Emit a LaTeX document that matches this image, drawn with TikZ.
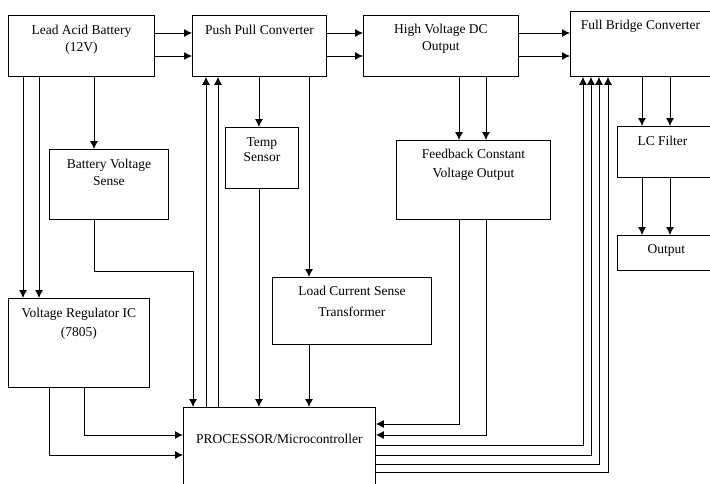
\documentclass[tikz,border=0pt]{standalone}
\usepackage{fontspec}
\setmainfont{Liberation Serif}
\usetikzlibrary{arrows.meta}

\tikzset{
  blk/.style={draw, line width=0.9pt, anchor=north west, inner sep=0pt},
  ttl/.style={anchor=north, align=center, inner sep=0pt, yshift=-10pt,
    font=\fontsize{13.5}{17}\selectfont},
  wire/.style={line width=0.9pt, ->, >={Latex[length=8pt,width=8pt]}}
}

\begin{document}
\begin{tikzpicture}[x=1pt,y=-1pt]
  \useasboundingbox (0,0) rectangle (710,483);
  \clip (0,0) rectangle (710,483);

  % blocks
  \node[blk, minimum width=146pt, minimum height=61pt,
    label={[ttl]north:{Lead Acid Battery\\(12V)}}] (bat) at (8,15) {};
  \node[blk, minimum width=134pt, minimum height=61pt,
    label={[ttl]north:{Push Pull Converter}}] (pp) at (192,15) {};
  \node[blk, minimum width=155pt, minimum height=61pt,
    label={[ttl,yshift=1pt]north:{High Voltage DC\\Output}}] (hv) at (363,15) {};
  \node[blk, minimum width=160pt, minimum height=65pt,
    label={[ttl,xshift=-10pt,yshift=1pt]north:{Full Bridge Converter}}] (fb) at (570,11) {};
  \node[blk, minimum width=119pt, minimum height=70pt,
    label={[ttl]north:{Battery Voltage\\Sense}}] (bvs) at (49,149) {};
  \node[blk, minimum width=73pt, minimum height=61pt,
    label={[ttl,font=\fontsize{13.5}{15}\selectfont]north:{Temp\\Sensor}}] (tmp) at (225,127) {};
  \node[blk, minimum width=154pt, minimum height=79pt,
    label={[ttl,yshift=1pt,font=\fontsize{13.5}{19}\selectfont]north:{Feedback Constant\\Voltage Output}}] (fcv) at (396,140) {};
  \node[blk, minimum width=110pt, minimum height=51pt,
    label={[ttl,xshift=-10pt]north:{LC Filter}}] (lc) at (617,126) {};
  \node[blk, minimum width=110pt, minimum height=35pt,
    label={[ttl,xshift=-6pt,yshift=1pt]north:{Output}}] (out) at (617,235) {};
  \node[blk, minimum width=141pt, minimum height=89pt,
    label={[ttl,font=\fontsize{13.5}{19}\selectfont]north:{Voltage Regulator IC\\(7805)}}] (reg) at (8,298) {};
  \node[blk, minimum width=159pt, minimum height=67pt,
    label={[ttl,yshift=1pt,font=\fontsize{13.5}{21}\selectfont]north:{Load Current Sense\\Transformer}}] (lcs) at (272,277) {};
  \node[blk, minimum width=192pt, minimum height=95pt,
    label={[ttl,yshift=-17pt]north:{PROCESSOR/Microcontroller}}] (cpu) at (183,407) {};

  % top row
  \foreach \dy in {18,41}
  {
    \draw[wire] ([yshift=-\dy pt]bat.north east) -- ([yshift=-\dy pt]bat.north east -| pp.west);
    \draw[wire] ([yshift=-\dy pt]pp.north east) -- ([yshift=-\dy pt]pp.north east -| hv.west);
    \draw[wire] ([yshift=-\dy pt]hv.north east) -- ([yshift=-\dy pt]hv.north east -| fb.west);
  }

  % battery side
  \foreach \dx in {15,31}
    \draw[wire] ([xshift=\dx pt]bat.south west) -- ([xshift=\dx pt]bat.south west |- reg.north);
  \draw[wire] ([xshift=86pt]bat.south west) -- ([xshift=86pt]bat.south west |- bvs.north);
  \draw[wire] ([xshift=45pt]bvs.south west) -- ++(0,52) -| ([xshift=10pt]cpu.north west);
  \draw[wire] ([xshift=76pt]reg.south west) |- ([yshift=-28pt]cpu.north west);
  \draw[wire] ([xshift=41pt]reg.south west) |- ([yshift=-48pt]cpu.north west);

  % push pull side
  \foreach \dx in {23,35}
    \draw[wire] ([xshift=\dx pt]cpu.north west) -- ([xshift=\dx pt]cpu.north west |- pp.south);
  \draw[wire] ([xshift=-3pt]tmp.north |- pp.south) -- ([xshift=-3pt]tmp.north);
  \draw[wire] ([xshift=-3pt]tmp.south) -- ([xshift=-3pt]tmp.south |- cpu.north);
  \draw[wire] ([xshift=37pt]lcs.north west |- pp.south) -- ([xshift=37pt]lcs.north west);
  \draw[wire] ([xshift=37pt]lcs.south west) -- ([xshift=37pt]lcs.south west |- cpu.north);

  % feedback
  \draw[wire] ([xshift=63pt]fcv.north west |- hv.south) -- ([xshift=63pt]fcv.north west);
  \draw[wire] ([xshift=90pt]fcv.north west |- hv.south) -- ([xshift=90pt]fcv.north west);
  \draw[wire] ([xshift=63pt]fcv.south west) |- ([yshift=-17pt]cpu.north east);
  \draw[wire] ([xshift=90pt]fcv.south west) |- ([yshift=-28pt]cpu.north east);

  % full bridge
  \foreach \dy/\dx in {38/13,48/21,57/29,65/38}
    \draw[wire] ([yshift=-\dy pt]cpu.north east) -| ([xshift=\dx pt]fb.south west);
  \foreach \dx in {25,53}
  {
    \draw[wire] ([xshift=\dx pt]lc.north west |- fb.south) -- ([xshift=\dx pt]lc.north west);
    \draw[wire] ([xshift=\dx pt]lc.south west) -- ([xshift=\dx pt]out.north west);
  }
\end{tikzpicture}
\end{document}
